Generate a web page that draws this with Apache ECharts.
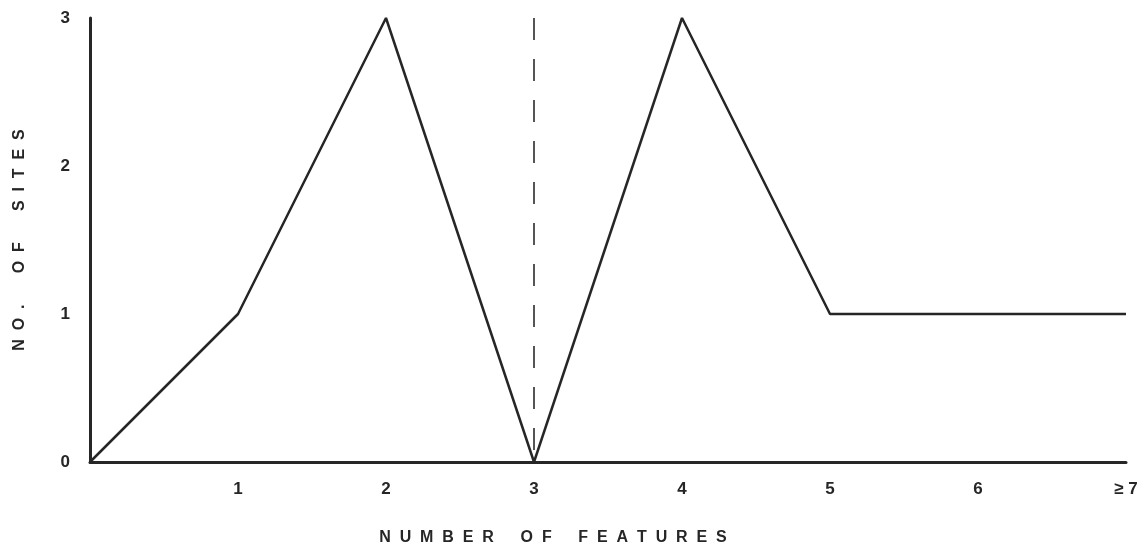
<!DOCTYPE html>
<html>
<head>
<meta charset="utf-8">
<script src="https://cdn.jsdelivr.net/npm/echarts@6/dist/echarts.min.js"></script>
<style>
html,body{margin:0;padding:0;background:#fff;}
#chart{width:1148px;height:550px;}
</style>
</head>
<body>
<div id="chart"></div>
<script>
var features = [0, 1, 2, 3, 4, 5, 6, 7];
var sites = [0, 1, 3, 0, 3, 1, 1, 1];
var xTickLabels = ['', '1', '2', '3', '4', '5', '6', '\u2265 7'];
var yTickLabels = ['0', '1', '2', '3'];
var dividerAt = 3;
var xTitle = 'N  U  M  B  E  R      O  F      F  E  A  T  U  R  E  S';
var yTitle = 'N  O  .       O  F       S  I  T  E  S';

var ink = '#262626';
var font = '"Liberation Sans", Arial, sans-serif';
var chart = echarts.init(document.getElementById('chart'));
chart.setOption({
  animation: false,
  backgroundColor: '#fff',
  grid: {left: 90, right: 22, top: 18, bottom: 88, containLabel: false, outerBoundsMode: 'none'},
  xAxis: {
    type: 'value', min: 0, max: 7, interval: 1,
    axisLine: {show: true, lineStyle: {color: ink, width: 3}},
    axisTick: {show: false},
    splitLine: {show: false},
    axisLabel: {
      color: ink, fontFamily: font, fontSize: 17, fontWeight: 'bold', margin: 19,
      formatter: function (v) { return xTickLabels[Math.round(v)] || ''; }
    },
    name: xTitle, nameLocation: 'middle', nameGap: 68,
    nameTextStyle: {color: ink, fontFamily: font, fontSize: 16, fontWeight: 'bold', padding: [0, 110, 0, 0]}
  },
  yAxis: {
    type: 'value', min: 0, max: 3, interval: 1,
    axisLine: {show: true, lineStyle: {color: ink, width: 3}},
    axisTick: {show: false},
    splitLine: {show: false},
    axisLabel: {
      color: ink, fontFamily: font, fontSize: 17, fontWeight: 'bold', margin: 20,
      formatter: function (v) { return yTickLabels[Math.round(v)]; }
    },
    name: yTitle, nameLocation: 'middle', nameGap: 62, nameRotate: 90,
    nameTextStyle: {color: ink, fontFamily: font, fontSize: 16, fontWeight: 'bold'}
  },
  series: [{
    type: 'line',
    data: features.map(function (f, i) { return [f, sites[i]]; }),
    symbol: 'none',
    lineStyle: {color: ink, width: 2.5}
  }, {
    type: 'line',
    data: [[dividerAt, yTickLabels.length - 1], [dividerAt, 0]],
    symbol: 'none', silent: true,
    lineStyle: {color: '#555', width: 2, type: [22, 19]}
  }]
});
</script>
</body>
</html>
